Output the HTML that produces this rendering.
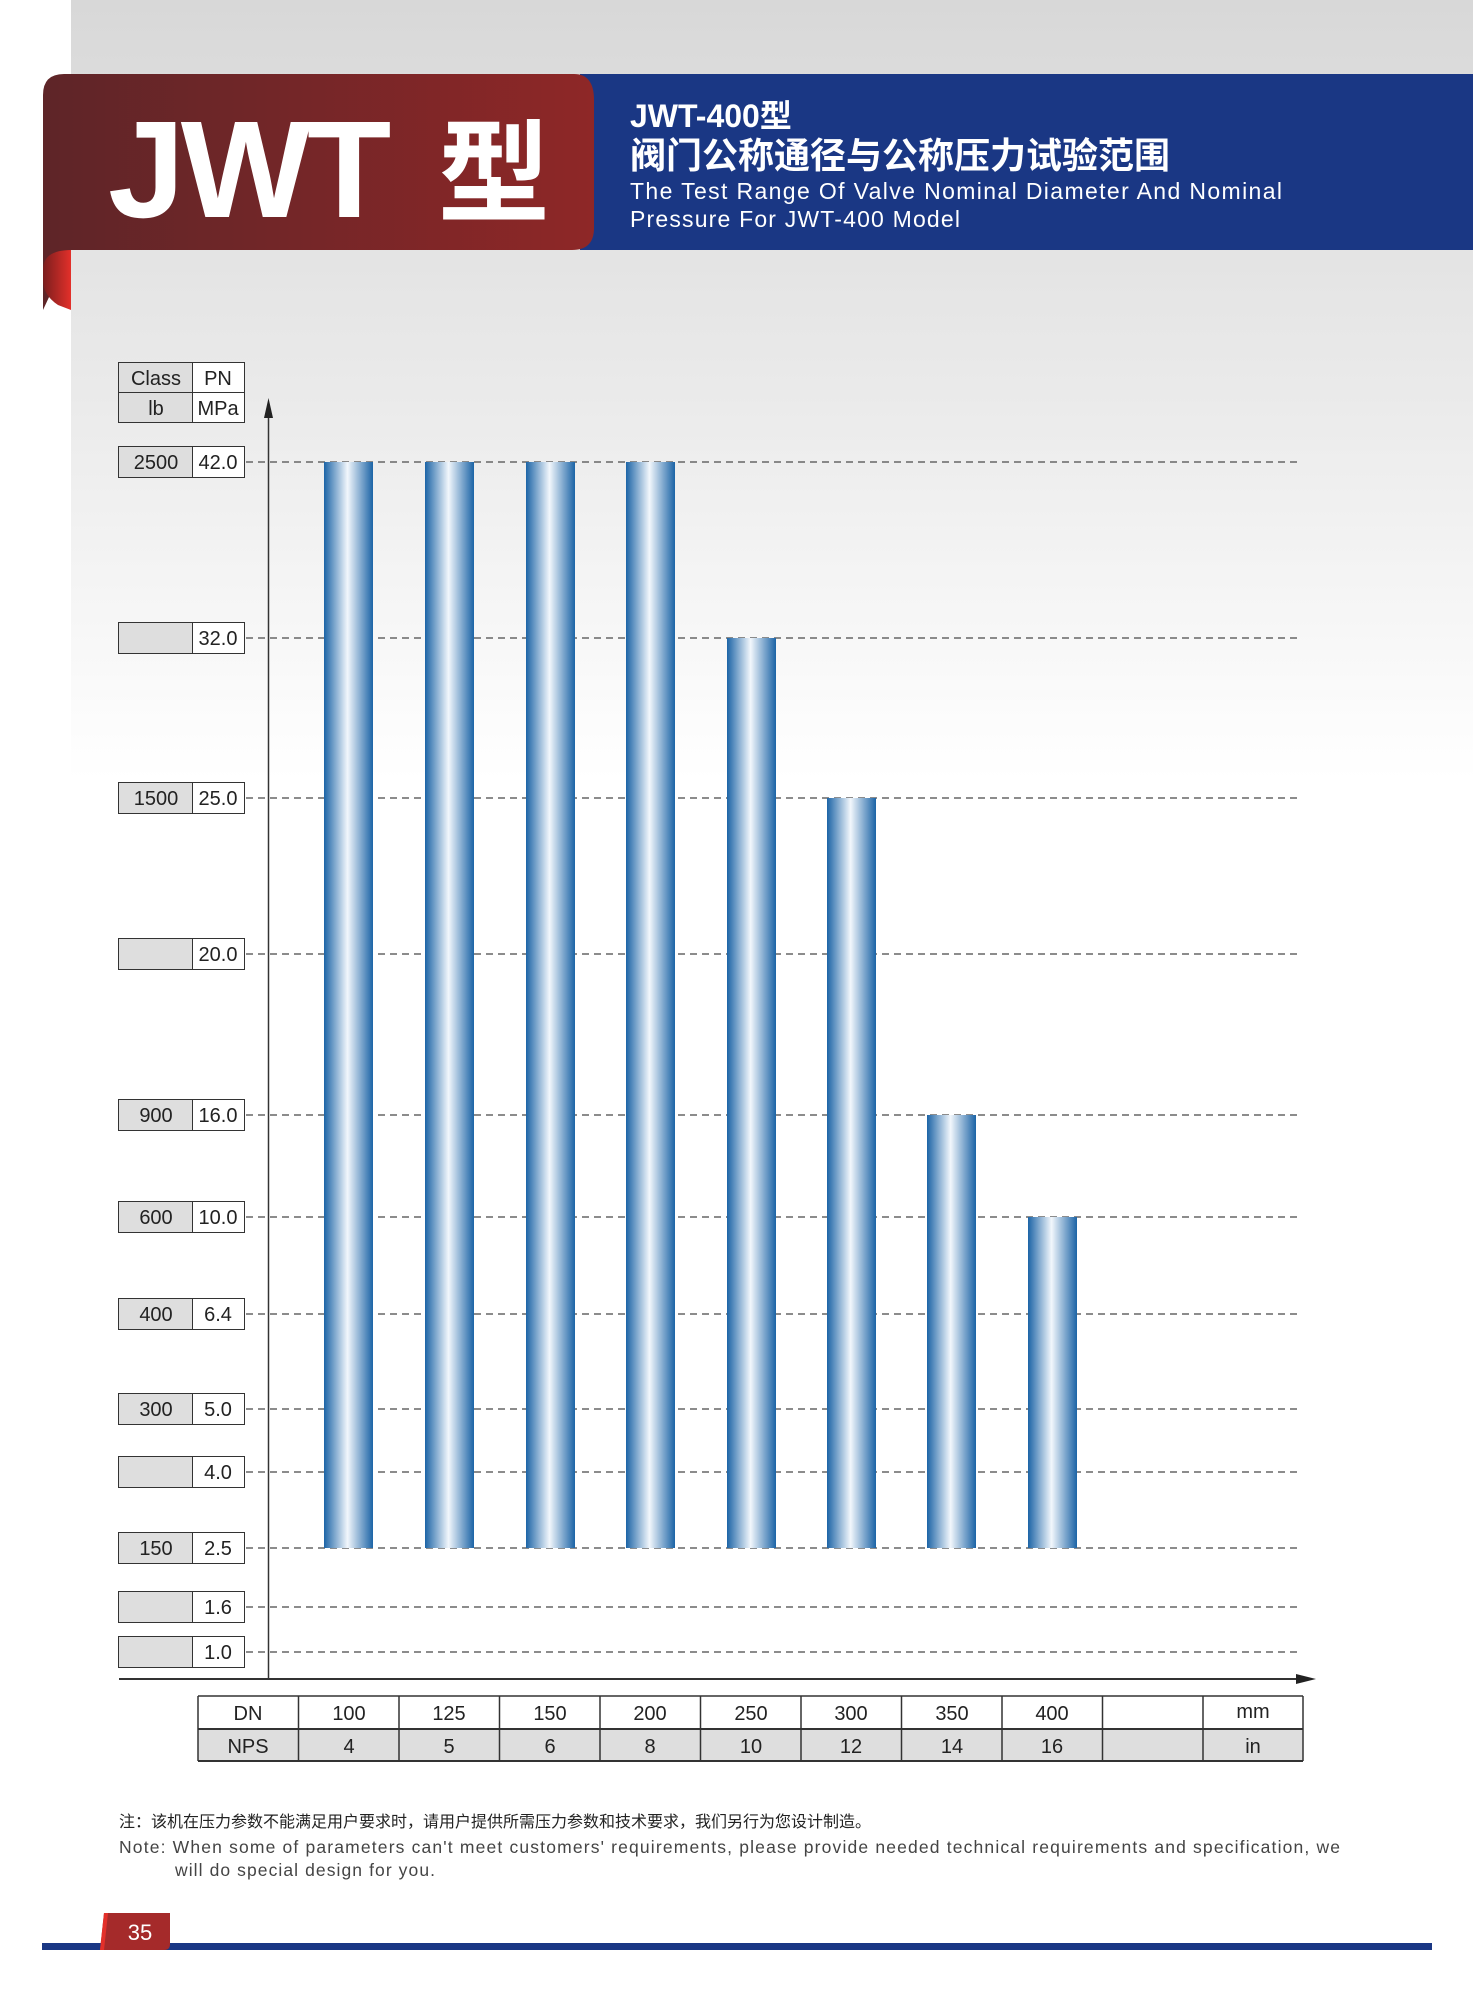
<!DOCTYPE html>
<html><head><meta charset="utf-8"><style>
body{margin:0;width:1473px;height:2000px;position:relative;overflow:hidden;background:#fff;font-family:"Liberation Sans","Noto Sans CJK SC",sans-serif}
</style></head><body>
<svg width="1473" height="2000" xmlns="http://www.w3.org/2000/svg" style="position:absolute;left:0;top:0">
<defs>
<linearGradient id="bg" x1="0" y1="0" x2="0" y2="1"><stop offset="0" stop-color="#d8d8d8"/><stop offset="0.5" stop-color="#eaeaea"/><stop offset="1" stop-color="#ffffff"/></linearGradient>
<linearGradient id="red" x1="0" y1="0" x2="1" y2="0"><stop offset="0" stop-color="#5e2528"/><stop offset="1" stop-color="#8e2727"/></linearGradient>
<linearGradient id="curl" x1="0" y1="0" x2="1" y2="0"><stop offset="0" stop-color="#7a1e1e"/><stop offset="1" stop-color="#e3302a"/></linearGradient>
<linearGradient id="bar" x1="0" y1="0" x2="1" y2="0"><stop offset="0" stop-color="#1c64a6"/><stop offset="0.48" stop-color="#f2f7fc"/><stop offset="1" stop-color="#1c64a6"/></linearGradient>
</defs>
<rect x="71" y="0" width="1402" height="780" fill="url(#bg)"/>
<rect x="580" y="74" width="893" height="176" fill="#1a3784"/>
<path d="M43 310 L43 95 Q43 74 64 74 L574 74 Q594 74 594 100 L594 228 Q594 250 572 250 L71 250 Z" fill="url(#red)"/>
<path d="M43 270 Q43 250 71 250 L71 310 L58 305 Q43 295 43 280 Z" fill="url(#curl)"/>
<text x="108" y="217" font-size="138" fill="#fff" font-weight="bold" font-family="Liberation Sans,sans-serif" letter-spacing="-4">JWT</text>
<text x="438" y="213" font-size="112" fill="#fff" font-weight="bold" font-family="Noto Sans CJK SC,sans-serif">型</text>
<text x="630" y="127" font-size="32" fill="#fff" font-weight="bold" font-family="Liberation Sans,Noto Sans CJK SC,sans-serif">JWT-400型</text>
<text x="630" y="168" font-size="36" fill="#fff" font-weight="bold" font-family="Noto Sans CJK SC,sans-serif">阀门公称通径与公称压力试验范围</text>
<text x="630" y="199" font-size="23" fill="#fff" textLength="652" lengthAdjust="spacing">The Test Range Of Valve Nominal Diameter And Nominal</text>
<text x="630" y="227" font-size="23" fill="#fff" textLength="330" lengthAdjust="spacing">Pressure For JWT-400 Model</text>
<g font-size="20" fill="#222" text-anchor="middle">
<rect x="118.5" y="362.5" width="74" height="30" fill="#dedede" stroke="#333"/><rect x="192.5" y="362.5" width="52" height="30" fill="#fff" stroke="#333"/>
<rect x="118.5" y="392.5" width="74" height="30" fill="#dedede" stroke="#333"/><rect x="192.5" y="392.5" width="52" height="30" fill="#fff" stroke="#333"/>
<text x="156" y="385">Class</text><text x="218" y="385">PN</text>
<text x="156" y="415">lb</text><text x="218" y="415">MPa</text>
</g>
<g stroke="#666" stroke-dasharray="7,5" stroke-width="1.5">
<line x1="246" y1="462" x2="1301" y2="462"/><line x1="246" y1="638" x2="1301" y2="638"/><line x1="246" y1="798" x2="1301" y2="798"/><line x1="246" y1="954" x2="1301" y2="954"/><line x1="246" y1="1115" x2="1301" y2="1115"/><line x1="246" y1="1217" x2="1301" y2="1217"/><line x1="246" y1="1314" x2="1301" y2="1314"/><line x1="246" y1="1409" x2="1301" y2="1409"/><line x1="246" y1="1472" x2="1301" y2="1472"/><line x1="246" y1="1548" x2="1301" y2="1548"/><line x1="246" y1="1607" x2="1301" y2="1607"/><line x1="246" y1="1652" x2="1301" y2="1652"/>
</g>
<g font-size="20" fill="#222" text-anchor="middle" stroke-width="1">
<g transform="translate(0,462)"><rect x="118.5" y="-15.5" width="74" height="31" fill="#dedede" stroke="#333"/><rect x="192.5" y="-15.5" width="52" height="31" fill="#fff" stroke="#333"/><text x="156" y="7">2500</text><text x="218" y="7">42.0</text></g>
<g transform="translate(0,638)"><rect x="118.5" y="-15.5" width="74" height="31" fill="#dedede" stroke="#333"/><rect x="192.5" y="-15.5" width="52" height="31" fill="#fff" stroke="#333"/><text x="218" y="7">32.0</text></g>
<g transform="translate(0,798)"><rect x="118.5" y="-15.5" width="74" height="31" fill="#dedede" stroke="#333"/><rect x="192.5" y="-15.5" width="52" height="31" fill="#fff" stroke="#333"/><text x="156" y="7">1500</text><text x="218" y="7">25.0</text></g>
<g transform="translate(0,954)"><rect x="118.5" y="-15.5" width="74" height="31" fill="#dedede" stroke="#333"/><rect x="192.5" y="-15.5" width="52" height="31" fill="#fff" stroke="#333"/><text x="218" y="7">20.0</text></g>
<g transform="translate(0,1115)"><rect x="118.5" y="-15.5" width="74" height="31" fill="#dedede" stroke="#333"/><rect x="192.5" y="-15.5" width="52" height="31" fill="#fff" stroke="#333"/><text x="156" y="7">900</text><text x="218" y="7">16.0</text></g>
<g transform="translate(0,1217)"><rect x="118.5" y="-15.5" width="74" height="31" fill="#dedede" stroke="#333"/><rect x="192.5" y="-15.5" width="52" height="31" fill="#fff" stroke="#333"/><text x="156" y="7">600</text><text x="218" y="7">10.0</text></g>
<g transform="translate(0,1314)"><rect x="118.5" y="-15.5" width="74" height="31" fill="#dedede" stroke="#333"/><rect x="192.5" y="-15.5" width="52" height="31" fill="#fff" stroke="#333"/><text x="156" y="7">400</text><text x="218" y="7">6.4</text></g>
<g transform="translate(0,1409)"><rect x="118.5" y="-15.5" width="74" height="31" fill="#dedede" stroke="#333"/><rect x="192.5" y="-15.5" width="52" height="31" fill="#fff" stroke="#333"/><text x="156" y="7">300</text><text x="218" y="7">5.0</text></g>
<g transform="translate(0,1472)"><rect x="118.5" y="-15.5" width="74" height="31" fill="#dedede" stroke="#333"/><rect x="192.5" y="-15.5" width="52" height="31" fill="#fff" stroke="#333"/><text x="218" y="7">4.0</text></g>
<g transform="translate(0,1548)"><rect x="118.5" y="-15.5" width="74" height="31" fill="#dedede" stroke="#333"/><rect x="192.5" y="-15.5" width="52" height="31" fill="#fff" stroke="#333"/><text x="156" y="7">150</text><text x="218" y="7">2.5</text></g>
<g transform="translate(0,1607)"><rect x="118.5" y="-15.5" width="74" height="31" fill="#dedede" stroke="#333"/><rect x="192.5" y="-15.5" width="52" height="31" fill="#fff" stroke="#333"/><text x="218" y="7">1.6</text></g>
<g transform="translate(0,1652)"><rect x="118.5" y="-15.5" width="74" height="31" fill="#dedede" stroke="#333"/><rect x="192.5" y="-15.5" width="52" height="31" fill="#fff" stroke="#333"/><text x="218" y="7">1.0</text></g>
</g>
<g fill="url(#bar)">
<rect x="324" y="462" width="49" height="1086"/>
<rect x="425" y="462" width="49" height="1086"/>
<rect x="526" y="462" width="49" height="1086"/>
<rect x="626" y="462" width="49" height="1086"/>
<rect x="727" y="638" width="49" height="910"/>
<rect x="827" y="798" width="49" height="750"/>
<rect x="927" y="1115" width="49" height="433"/>
<rect x="1028" y="1217" width="49" height="331"/>
</g>
<line x1="268.5" y1="410" x2="268.5" y2="1679" stroke="#333" stroke-width="1.5"/>
<path d="M268.5 398 L264 418 L273 418 Z" fill="#222"/>
<line x1="119" y1="1679" x2="1300" y2="1679" stroke="#333" stroke-width="2"/>
<path d="M1316 1679 L1296 1674 L1296 1684 Z" fill="#222"/>
<rect x="198" y="1696" width="1105" height="33" fill="#fff"/>
<rect x="198" y="1729" width="1105" height="32" fill="#dedede"/>
<g stroke="#333" stroke-width="1.5">
<line x1="198" y1="1696" x2="1303" y2="1696"/><line x1="198" y1="1729" x2="1303" y2="1729" stroke-width="2"/><line x1="198" y1="1761" x2="1303" y2="1761" stroke-width="2"/>
<line x1="198" y1="1696" x2="198" y2="1761"/><line x1="298.5" y1="1696" x2="298.5" y2="1761"/><line x1="399" y1="1696" x2="399" y2="1761"/><line x1="499.5" y1="1696" x2="499.5" y2="1761"/><line x1="600" y1="1696" x2="600" y2="1761"/><line x1="700.5" y1="1696" x2="700.5" y2="1761"/><line x1="801" y1="1696" x2="801" y2="1761"/><line x1="901.5" y1="1696" x2="901.5" y2="1761"/><line x1="1002" y1="1696" x2="1002" y2="1761"/><line x1="1102.5" y1="1696" x2="1102.5" y2="1761"/><line x1="1203" y1="1696" x2="1203" y2="1761"/><line x1="1303" y1="1696" x2="1303" y2="1761"/>
</g>
<g font-size="20" fill="#222" text-anchor="middle">
<text x="248" y="1720">DN</text><text x="349" y="1720">100</text><text x="449" y="1720">125</text><text x="550" y="1720">150</text><text x="650" y="1720">200</text><text x="751" y="1720">250</text><text x="851" y="1720">300</text><text x="952" y="1720">350</text><text x="1052" y="1720">400</text><text x="1253" y="1718">mm</text>
<text x="248" y="1753">NPS</text><text x="349" y="1753">4</text><text x="449" y="1753">5</text><text x="550" y="1753">6</text><text x="650" y="1753">8</text><text x="751" y="1753">10</text><text x="851" y="1753">12</text><text x="952" y="1753">14</text><text x="1052" y="1753">16</text><text x="1253" y="1753">in</text>
</g>
<text x="119" y="1827" font-size="16" fill="#222" font-family="Noto Sans CJK SC,sans-serif">注：该机在压力参数不能满足用户要求时，请用户提供所需压力参数和技术要求，我们另行为您设计制造。</text>
<text x="119" y="1853" font-size="17.5" fill="#444" textLength="1221" lengthAdjust="spacing">Note: When some of parameters can't meet customers' requirements, please provide needed technical requirements and specification, we</text>
<text x="175" y="1876" font-size="17.5" fill="#444" textLength="260" lengthAdjust="spacing">will do special design for you.</text>
<rect x="42" y="1943" width="1390" height="7" fill="#1a3784"/>
<path d="M104 1913 L170 1913 L170 1944 Q170 1950 164 1950 L100 1950 Z" fill="#a52a2a"/>
<path d="M104 1913 L108 1913 L104 1950 L100 1950 Z" fill="#e3302a"/>
<text x="140" y="1940" font-size="22" fill="#fff" text-anchor="middle">35</text>
</svg>
</body></html>
